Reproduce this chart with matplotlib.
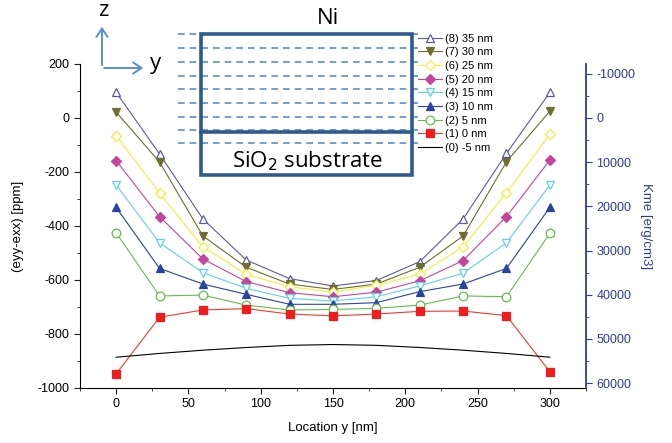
import matplotlib.pyplot as plt
from matplotlib.lines import Line2D
from matplotlib.patches import Rectangle, FancyArrowPatch

plt.rcParams['font.family'] = ['Liberation Sans', 'DejaVu Sans']
plt.rcParams['axes.unicode_minus'] = False

# location along y [nm]
loc = [0, 30, 60, 90, 120, 150, 180, 210, 240, 270, 300]

# (eyy-exx) [ppm] per depth
s35 = [95, -133, -374, -526, -595, -622, -602, -532, -374, -131, 95]
s30 = [22, -163, -437, -553, -615, -635, -615, -553, -437, -162, 25]
s25 = [-66, -278, -477, -579, -625, -645, -619, -579, -477, -277, -60]
s20 = [-158, -365, -522, -606, -647, -662, -645, -603, -528, -365, -156]
s15 = [-248, -462, -573, -631, -668, -678, -662, -622, -575, -462, -248]
s10 = [-331, -557, -615, -653, -690, -690, -684, -643, -615, -557, -331]
s5 = [-425, -659, -656, -693, -711, -709, -705, -693, -659, -662, -427]
s0 = [-948, -738, -711, -706, -726, -733, -726, -716, -715, -732, -940]
sm5 = [-886, -872, -860, -850, -842, -839, -842, -850, -860, -872, -886]

labels = ['(8) 35 nm', '(7) 30 nm', '(6) 25 nm', '(5) 20 nm', '(4) 15 nm',
          '(3) 10 nm', '(2) 5 nm', '(1) 0 nm', '(0) -5 nm']

W, H = 672, 443
fig = plt.figure(figsize=(W / 100, H / 100), dpi=100)
ax = fig.add_axes([80 / W, 1 - 388 / H, 506 / W, 324 / H])

styles = [
    (s35, '#5a5aaa', '^', 'none'),
    (s30, '#6e6e2e', 'v', '#6e6e2e'),
    (s25, '#f2ee3a', 'D', 'none'),
    (s20, '#c4449e', 'D', '#c4449e'),
    (s15, '#5ed0ea', 'v', 'none'),
    (s10, '#2a44a0', '^', '#2a44a0'),
    (s5, '#62c04a', 'o', 'none'),
    (s0, '#f03a2a', 's', '#ee1c1c'),
    (sm5, '#000000', None, 'none'),
]

handles = []
for (vals, c, m, fc), lab in zip(styles, labels):
    ms = 5.2 if m in ('D', 's') else 6.2
    h, = ax.plot(loc, vals, color=c, lw=0.8, marker=m, ms=ms,
                 mfc='white' if fc == 'none' else fc, mec=c if m != 's' else '#ee1c1c',
                 mew=0.9, label=lab, zorder=3)
    handles.append(h)

ax.set_xlim(-25, 325)
ax.set_ylim(-1000, 200)
ax.set_xticks(range(0, 301, 50))
ax.set_xticks(range(-25, 326, 25), minor=True)
ax.set_yticks(range(-1000, 201, 200))
ax.set_yticks(range(-1000, 201, 100), minor=True)
ax.tick_params(which='both', direction='out', labelsize=9, color='#222222')
ax.tick_params(which='major', length=4)
ax.tick_params(which='minor', length=2.5)
ax.spines['top'].set_visible(False)
ax.spines['right'].set_visible(False)
ax.set_xlabel('Location y [nm]', fontsize=9.5, labelpad=8)
ax.set_ylabel('(eyy-exx) [ppm]', fontsize=9.5, labelpad=10)

ax2 = ax.twinx()
ax2.set_ylim(61100, -12200)
ax2.set_yticks(range(-10000, 60001, 10000))
ax2.set_yticks(range(-10000, 60001, 5000), minor=True)
blue = '#2c3c9c'
for sp in ['top', 'left', 'bottom']:
    ax2.spines[sp].set_visible(False)
ax2.spines['right'].set_color(blue)
ax2.spines['right'].set_linewidth(1.3)
ax2.tick_params(which='both', direction='out', colors=blue, labelsize=9)
ax2.tick_params(which='major', length=4)
ax2.tick_params(which='minor', length=2.5)
ax2.set_ylabel('Kme [erg/cm3]', fontsize=9.5, color=blue, rotation=270, labelpad=12)

leg = ax.legend(handles=handles, loc='upper left', bbox_to_anchor=(412 / W, 1 - 28 / H),
                bbox_transform=fig.transFigure, frameon=False, fontsize=8,
                handlelength=2.2, handletextpad=0.3, labelspacing=0.33, borderpad=0)
leg.set_zorder(5)

# inset sketch of the film
def fx(px):
    return px / W

def fy(py):
    return 1 - py / H

dash_c = '#5a8ed8'
for py in [34, 48, 62, 75.5, 89, 103, 117, 130, 143]:
    fig.add_artist(Line2D([fx(178), fx(418)], [fy(py), fy(py)], color=dash_c,
                          lw=1.2, ls=(0, (4, 3)), zorder=6))

box_c = '#2e5b8e'
fig.add_artist(Rectangle((fx(201), fy(175)), fx(412) - fx(201), fy(34) - fy(175),
                         transform=fig.transFigure, fill=False, ec=box_c, lw=2.6, zorder=7))
fig.add_artist(Line2D([fx(201), fx(412)], [fy(132), fy(132)], color=box_c, lw=2.6, zorder=7))
fig.text(fx(328), fy(19), 'Ni', fontsize=16, ha='center', va='center', family='Open Sans')
fig.text(fx(307), fy(161), 'SiO$_2$ substrate', fontsize=16, ha='center', va='center',
         family='Open Sans')

arrow_c = '#5a8ed8'
fig.add_artist(FancyArrowPatch((fx(102), fy(68)), (fx(102), fy(24)), transform=fig.transFigure,
                               arrowstyle='->,head_length=6,head_width=4', color=arrow_c, lw=1.4))
fig.add_artist(FancyArrowPatch((fx(101.3), fy(68)), (fx(146), fy(68)), transform=fig.transFigure,
                               arrowstyle='->,head_length=6,head_width=4', color=arrow_c, lw=1.4))
fig.text(fx(103), fy(10), 'z', fontsize=16, ha='center', va='center', family='Open Sans')
fig.text(fx(156), fy(64), 'y', fontsize=16, ha='center', va='center', family='Open Sans')

fig.savefig('out.png', dpi=100)
